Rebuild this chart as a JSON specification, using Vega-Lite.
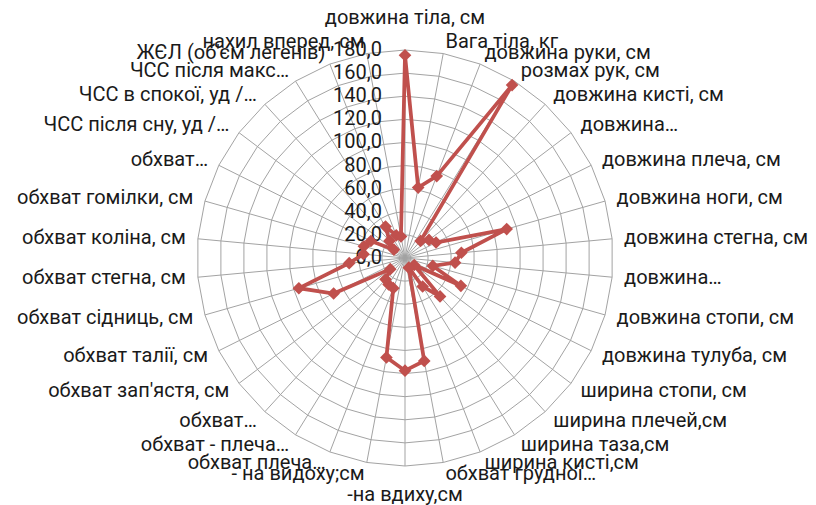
{
  "$schema": "https://vega.github.io/schema/vega-lite/v6.json",
  "width": 816,
  "height": 505,
  "autosize": {"type": "none"},
  "padding": 0,
  "background": "white",
  "config": {"view": {"stroke": null}, "font": "Roboto"},
  "datasets": {
    "cats": [
      {"label": "довжина тіла, см", "value": 175.5},
      {"label": "Вага тіла, кг", "value": 62},
      {"label": "довжина руки, см", "value": 76},
      {"label": "розмах рук, см", "value": 176},
      {"label": "довжина кисті, см", "value": 20},
      {"label": "довжина…", "value": 26},
      {"label": "довжина плеча, см", "value": 30},
      {"label": "довжина ноги, см", "value": 91.5},
      {"label": "довжина стегна, см", "value": 49},
      {"label": "довжина…", "value": 43.5},
      {"label": "довжина стопи, см", "value": 25},
      {"label": "довжина тулуба, см", "value": 54},
      {"label": "ширина стопи, см", "value": 10},
      {"label": "ширина плечей,см", "value": 45},
      {"label": "ширина таза,см", "value": 29},
      {"label": "ширина кисті,см", "value": 9},
      {"label": "обхват грудної…", "value": 90.6},
      {"label": "-на вдиху,см", "value": 97.5},
      {"label": "- на видоху;см", "value": 87.5},
      {"label": "обхват плеча…", "value": 28},
      {"label": "обхват - плеча…", "value": 27},
      {"label": "обхват…", "value": 25},
      {"label": "обхват зап'ястя, см", "value": 16},
      {"label": "обхват талії, см", "value": 69},
      {"label": "обхват сідниць, см", "value": 95.5},
      {"label": "обхват стегна, см", "value": 48.5},
      {"label": "обхват коліна, см", "value": 36},
      {"label": "обхват гомілки, см", "value": 37},
      {"label": "обхват…", "value": 33},
      {"label": "ЧСС після сну, уд /…", "value": 12},
      {"label": "ЧСС в спокої, уд /…", "value": 20},
      {"label": "ЧСС після макс…", "value": 32},
      {"label": "ЖЄЛ (об'єм легенів)", "value": 21},
      {"label": "нахил вперед, см", "value": 19}
    ],
    "levels": [
      {"level": 0, "label": "0,0"},
      {"level": 20, "label": "20,0"},
      {"level": 40, "label": "40,0"},
      {"level": 60, "label": "60,0"},
      {"level": 80, "label": "80,0"},
      {"level": 100, "label": "100,0"},
      {"level": 120, "label": "120,0"},
      {"level": 140, "label": "140,0"},
      {"level": 160, "label": "160,0"},
      {"level": 180, "label": "180,0"}
    ]
  },
  "layer": [
    {
      "data": {"name": "cats"},
      "transform": [
        {"window": [{"op": "row_number", "as": "i"}]},
        {"calculate": "(datum.i - 1) * 2 * PI / 34", "as": "a"},
        {"calculate": "[20, 40, 60, 80, 100, 120, 140, 160, 180]", "as": "lv"},
        {"flatten": ["lv"]},
        {"calculate": "datum.lv * sin(datum.a)", "as": "gx"},
        {"calculate": "datum.lv * cos(datum.a)", "as": "gy"}
      ],
      "mark": {"type": "line", "interpolate": "linear-closed", "color": "#a3a3a3", "strokeWidth": 1},
      "encoding": {
        "x": {"field": "gx", "type": "quantitative", "scale": {"domain": [-350.48, 355.67], "nice": false, "zero": false}, "axis": null},
        "y": {"field": "gy", "type": "quantitative", "scale": {"domain": [-213.75, 223.27], "nice": false, "zero": false}, "axis": null},
        "detail": {"field": "lv", "type": "nominal"},
        "order": {"field": "i", "type": "quantitative"}
      }
    },
    {
      "data": {"name": "cats"},
      "transform": [
        {"window": [{"op": "row_number", "as": "i"}]},
        {"calculate": "(datum.i - 1) * 2 * PI / 34", "as": "a"},
        {"calculate": "180 * sin(datum.a)", "as": "sx"},
        {"calculate": "180 * cos(datum.a)", "as": "sy"}
      ],
      "mark": {"type": "rule", "color": "#a3a3a3", "strokeWidth": 1},
      "encoding": {
        "x": {"field": "sx", "type": "quantitative"},
        "y": {"field": "sy", "type": "quantitative"},
        "x2": {"datum": 0},
        "y2": {"datum": 0}
      }
    },
    {
      "data": {"name": "levels"},
      "mark": {"type": "text", "align": "right", "baseline": "middle", "dx": -23, "fontSize": 20, "color": "#1a1a1a"},
      "encoding": {
        "x": {"datum": 0, "type": "quantitative"},
        "y": {"field": "level", "type": "quantitative"},
        "text": {"field": "label", "type": "nominal"}
      }
    },
    {
      "data": {"name": "cats"},
      "transform": [
        {"window": [{"op": "row_number", "as": "i"}]},
        {"calculate": "(datum.i - 1) * 2 * PI / 34", "as": "a"},
        {"calculate": "datum.value * sin(datum.a)", "as": "px"},
        {"calculate": "datum.value * cos(datum.a)", "as": "py"}
      ],
      "layer": [
        {
          "mark": {"type": "line", "interpolate": "linear-closed", "color": "#C0504D", "strokeWidth": 3.75},
          "encoding": {
            "x": {"field": "px", "type": "quantitative"},
            "y": {"field": "py", "type": "quantitative"},
            "order": {"field": "i", "type": "quantitative"}
          }
        },
        {
          "mark": {"type": "point", "shape": "diamond", "filled": true, "opacity": 1, "color": "#C0504D", "size": 160},
          "encoding": {
            "x": {"field": "px", "type": "quantitative"},
            "y": {"field": "py", "type": "quantitative"}
          }
        }
      ]
    },
    {
      "data": {"name": "cats"},
      "transform": [
        {"window": [{"op": "row_number", "as": "i"}]},
        {"calculate": "(datum.i - 1) * 2 * PI / 34", "as": "a"},
        {"calculate": "190.4 * sin(datum.a)", "as": "lx"},
        {"calculate": "190.4 * cos(datum.a)", "as": "ly"}
      ],
      "layer": [
        {
          "transform": [{"filter": "datum.i == 1"}],
          "mark": {"type": "text", "align": "center", "baseline": "middle", "dy": -20, "fontSize": 20, "color": "#1a1a1a"},
          "encoding": {"x": {"field": "lx", "type": "quantitative"}, "y": {"field": "ly", "type": "quantitative"}, "text": {"field": "label", "type": "nominal"}}
        },
        {
          "transform": [{"filter": "datum.i >= 2 && datum.i <= 17"}],
          "mark": {"type": "text", "align": "left", "baseline": "middle", "fontSize": 20, "color": "#1a1a1a"},
          "encoding": {"x": {"field": "lx", "type": "quantitative"}, "y": {"field": "ly", "type": "quantitative"}, "text": {"field": "label", "type": "nominal"}}
        },
        {
          "transform": [{"filter": "datum.i == 18"}],
          "mark": {"type": "text", "align": "center", "baseline": "middle", "dy": 17, "fontSize": 20, "color": "#1a1a1a"},
          "encoding": {"x": {"field": "lx", "type": "quantitative"}, "y": {"field": "ly", "type": "quantitative"}, "text": {"field": "label", "type": "nominal"}}
        },
        {
          "transform": [{"filter": "datum.i >= 19"}],
          "mark": {"type": "text", "align": "right", "baseline": "middle", "fontSize": 20, "color": "#1a1a1a"},
          "encoding": {"x": {"field": "lx", "type": "quantitative"}, "y": {"field": "ly", "type": "quantitative"}, "text": {"field": "label", "type": "nominal"}}
        }
      ]
    }
  ]
}
